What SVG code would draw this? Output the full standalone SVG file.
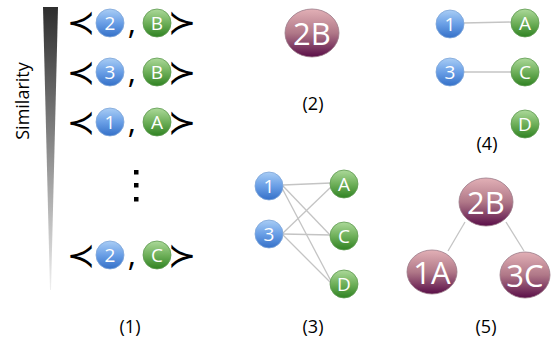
<svg xmlns="http://www.w3.org/2000/svg" width="555" height="339" viewBox="0 0 555 339">
<defs>
<linearGradient id="wedge" x1="0" y1="0" x2="0" y2="1">
<stop offset="0" stop-color="#2e2e2e"/><stop offset="0.5" stop-color="#8a8a8a"/><stop offset="1" stop-color="#f0f0f0"/>
</linearGradient>
<linearGradient id="blue" x1="0" y1="0" x2="0" y2="1">
<stop offset="0" stop-color="#a9cdf5"/><stop offset="0.5" stop-color="#6a9fe6"/><stop offset="1" stop-color="#3470c8"/>
</linearGradient>
<linearGradient id="green" x1="0" y1="0" x2="0" y2="1">
<stop offset="0" stop-color="#acd99a"/><stop offset="0.5" stop-color="#6fb05a"/><stop offset="1" stop-color="#2f8222"/>
</linearGradient>
<linearGradient id="maroon" x1="0" y1="0" x2="0" y2="1">
<stop offset="0" stop-color="#e2b0b6"/><stop offset="0.5" stop-color="#b07888"/><stop offset="1" stop-color="#5a0e48"/>
</linearGradient>
<style>
.b{fill:url(#blue);stroke:#7fa6d8;stroke-width:0.8}
.g{fill:url(#green);stroke:#5f9a52;stroke-width:0.8}
.m{fill:url(#maroon);stroke:#9a7a88;stroke-width:0.8}
.t{font-family:"Open Sans","Liberation Sans",sans-serif;fill:#fff;text-anchor:middle;dominant-baseline:central}
.s{font-size:19px}
.L{font-size:31px}
.lab{font-family:"Open Sans","Liberation Sans",sans-serif;font-size:18px;fill:#000;text-anchor:middle}
.sym{font-family:"DejaVu Sans",sans-serif;font-size:34px;fill:#000;text-anchor:middle;dominant-baseline:central}
.c{font-family:"Open Sans","Liberation Sans",sans-serif;font-size:32px;fill:#000;text-anchor:middle}
.e{stroke:#c4c4c4;stroke-width:1.3;fill:none}
</style>
</defs>
<rect width="555" height="339" fill="#fff"/>

<g id="panel1">
<polygon points="43,7 58,7 51,290 50,290" fill="url(#wedge)"/>
<text class="lab" transform="translate(22,101) rotate(-90)" dominant-baseline="central">Similarity</text>
<g id="row1">
<text class="sym" x="81" y="22">≺</text>
<circle class="b" cx="110" cy="23" r="14"/><text class="t s" x="110" y="23">2</text>
<text class="c" x="132" y="34">,</text>
<circle class="g" cx="157" cy="23" r="14"/><text class="t s" x="157" y="23">B</text>
<text class="sym" x="182" y="22">≻</text>
</g>
<g id="row2">
<text class="sym" x="81" y="72">≺</text>
<circle class="b" cx="110" cy="72" r="14"/><text class="t s" x="110" y="72">3</text>
<text class="c" x="132" y="83">,</text>
<circle class="g" cx="157" cy="72" r="14"/><text class="t s" x="157" y="72">B</text>
<text class="sym" x="182" y="72">≻</text>
</g>
<g id="row3">
<text class="sym" x="81" y="122">≺</text>
<circle class="b" cx="110" cy="122" r="14"/><text class="t s" x="110" y="122">1</text>
<text class="c" x="132" y="133">,</text>
<circle class="g" cx="157" cy="122" r="14"/><text class="t s" x="157" y="122">A</text>
<text class="sym" x="182" y="122">≻</text>
</g>
<g id="dots" fill="#000">
<rect x="134" y="170" width="4.5" height="4.5"/>
<rect x="134" y="183" width="4.5" height="4.5"/>
<rect x="134" y="197" width="4.5" height="4.5"/>
</g>
<g id="row4">
<text class="sym" x="81" y="255">≺</text>
<circle class="b" cx="110" cy="255" r="14"/><text class="t s" x="110" y="255">2</text>
<text class="c" x="132" y="266">,</text>
<circle class="g" cx="157" cy="255" r="14"/><text class="t s" x="157" y="255">C</text>
<text class="sym" x="182" y="255">≻</text>
</g>
<text class="lab" x="130" y="333">(1)</text>
</g>

<g id="panel2">
<g id="p2-2B"><ellipse class="m" cx="312" cy="33" rx="27" ry="24"/><text class="t L" x="312" y="33">2B</text></g>
<text class="lab" x="313" y="110">(2)</text>
</g>

<g id="connectors">
<line class="e" x1="463" y1="23" x2="511" y2="22"/>
<line class="e" x1="463" y1="72" x2="511" y2="72"/>
<line class="e" x1="283" y1="185" x2="331" y2="183"/>
<line class="e" x1="283" y1="186" x2="331" y2="236"/>
<line class="e" x1="282" y1="188" x2="332" y2="283"/>
<line class="e" x1="283" y1="233" x2="332" y2="186"/>
<line class="e" x1="283" y1="234" x2="331" y2="235"/>
<line class="e" x1="283" y1="235" x2="331" y2="283"/>
<line class="e" x1="465" y1="222" x2="448" y2="251"/>
<line class="e" x1="506" y1="222" x2="524" y2="251"/>
</g>

<g id="panel4">
<g id="p4-1"><circle class="b" cx="450" cy="24" r="14"/><text class="t s" x="450" y="24">1</text></g>
<g id="p4-A"><circle class="g" cx="525" cy="23" r="14"/><text class="t s" x="525" y="23">A</text></g>
<g id="p4-3"><circle class="b" cx="450" cy="72" r="14"/><text class="t s" x="450" y="72">3</text></g>
<g id="p4-C"><circle class="g" cx="525" cy="72" r="14"/><text class="t s" x="525" y="72">C</text></g>
<g id="p4-D"><circle class="g" cx="525" cy="124" r="14"/><text class="t s" x="525" y="124">D</text></g>
<text class="lab" x="487" y="150">(4)</text>
</g>

<g id="panel3">
<g id="p3-1"><circle class="b" cx="269" cy="186" r="14"/><text class="t s" x="269" y="186">1</text></g>
<g id="p3-3"><circle class="b" cx="269" cy="234" r="14"/><text class="t s" x="269" y="234">3</text></g>
<g id="p3-A"><circle class="g" cx="344" cy="184" r="14"/><text class="t s" x="344" y="184">A</text></g>
<g id="p3-C"><circle class="g" cx="344" cy="236" r="14"/><text class="t s" x="344" y="236">C</text></g>
<g id="p3-D"><circle class="g" cx="344" cy="284" r="14"/><text class="t s" x="344" y="284">D</text></g>
<text class="lab" x="313" y="333">(3)</text>
</g>

<g id="panel5">
<g id="p5-2B"><ellipse class="m" cx="486" cy="202" rx="27" ry="24"/><text class="t L" x="486" y="202">2B</text></g>
<g id="p5-1A"><ellipse class="m" cx="432" cy="272" rx="25" ry="22"/><text class="t L" x="432" y="272">1A</text></g>
<g id="p5-3C"><ellipse class="m" cx="525" cy="275" rx="25" ry="23"/><text class="t L" x="525" y="275">3C</text></g>
<text class="lab" x="486" y="333">(5)</text>
</g>
</svg>
